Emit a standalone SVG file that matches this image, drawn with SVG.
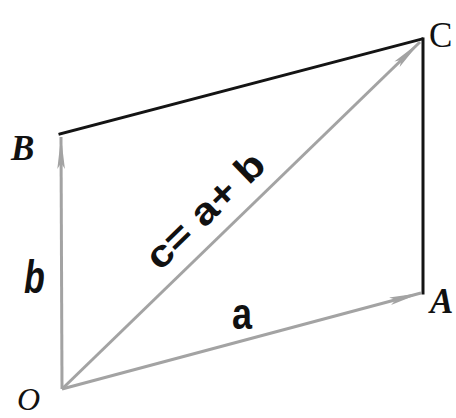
<svg xmlns="http://www.w3.org/2000/svg" width="456" height="418" viewBox="0 0 456 418">
<style>
.vec{stroke:#a3a3a3;stroke-width:3;fill:none;marker-end:url(#head)}
.edge{stroke:#141414;stroke-width:3;fill:none;stroke-linecap:square}
.pt{font-family:"Liberation Serif",serif;font-style:italic;font-weight:bold;font-size:35px;fill:#111}
.lab{font-family:"Liberation Sans",Arial,sans-serif;font-weight:bold;fill:#111}
</style>
<defs>
<marker id="head" markerUnits="userSpaceOnUse" markerWidth="40" markerHeight="12" viewBox="-34 -6 36 12" refX="0" refY="0" orient="auto">
<path d="M-32,-3.8 L0,0 L-32,3.8 L-26,0 Z" fill="#a3a3a3"/>
</marker>
</defs>
<rect width="456" height="418" fill="#fff"/>
<g id="connectors">
<line class="edge" x1="60" y1="134" x2="422" y2="39"/>
<line class="edge" x1="423" y1="39" x2="423" y2="293"/>
<line class="vec" x1="62" y1="389" x2="61" y2="137"/>
<line class="vec" x1="62" y1="389" x2="421" y2="293"/>
<line class="vec" x1="62" y1="389" x2="420" y2="42"/>
</g>
<g id="node-O"><text class="pt" x="17" y="410" style="font-weight:normal;font-size:32px">O</text></g>
<g id="node-A"><text class="pt" x="430" y="313">A</text></g>
<g id="node-B"><text class="pt" x="11" y="160">B</text></g>
<g id="node-C"><text x="429" y="47" style="font-family:'Liberation Serif',serif;font-size:35px;fill:#111">C</text></g>
<g id="label-a"><text class="lab" transform="translate(232 329) scale(1 1.25)" x="0" y="0" font-size="36">a</text></g>
<g id="label-b"><text class="lab" transform="translate(24 293) scale(1 1.35)" x="0" y="0" font-size="34" font-style="italic">b</text></g>
<g id="label-c"><text class="lab" transform="translate(62 389) rotate(-44.1) translate(152 -16) scale(1 1.25)" x="0" y="0" font-size="30" textLength="150" lengthAdjust="spacingAndGlyphs">c= a+ b</text></g>
</svg>
